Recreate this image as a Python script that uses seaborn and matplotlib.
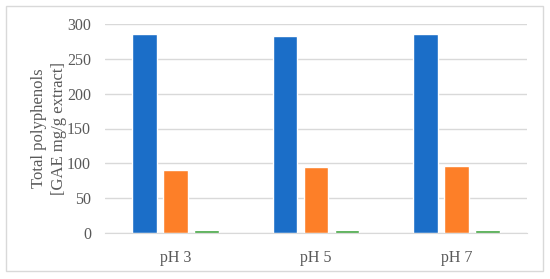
import pandas as pd
import matplotlib.pyplot as plt
import seaborn as sns
from matplotlib.patches import Rectangle

# Data
categories = ["pH 3", "pH 5", "pH 7"]
series_a = [285, 283, 285]
series_b = [91, 95, 96]
series_c = [5, 5, 5]
series_names = ["A", "B", "C"]
colors = ["#1b6ec8", "#fd7f28", "#3ea33c"]

data = pd.DataFrame({
    "pH": categories * 3,
    "value": series_a + series_b + series_c,
    "series": [series_names[0]] * 3 + [series_names[1]] * 3 + [series_names[2]] * 3,
})

sns.set_style("white")
plt.rcParams["font.family"] = ["Liberation Serif", "DejaVu Serif"]
text_color = "#595959"

fig = plt.figure(figsize=(5.5, 2.79), dpi=100)
ax = fig.add_axes([105 / 550, 1 - 233.3 / 279, 422 / 550, 209.6 / 279])

sns.barplot(data=data, x="pH", y="value", hue="series", palette=colors,
            width=0.66, gap=0.21, saturation=1, legend=False, ax=ax)

ax.set_ylim(0, 300)
ax.set_xlim(-0.5, 2.5)
ax.set_yticks(range(0, 301, 50))
ax.yaxis.grid(True, color="#d9d9d9", linewidth=1)
ax.set_axisbelow(True)
for side in ["top", "right", "left"]:
    ax.spines[side].set_visible(False)
ax.spines["bottom"].set_color("#d9d9d9")
ax.tick_params(axis="both", length=0, labelsize=11.5, colors=text_color, pad=10)
ax.tick_params(axis="x", pad=12)
ax.set_xlabel("")
ax.set_ylabel("Total polyphenols\n[GAE mg/g extract]", fontsize=12,
              color=text_color, labelpad=0, linespacing=1.35)

# light frame around the chart area
fig.patches.append(Rectangle((6 / 550, 1 - 271 / 279), 537 / 550, 265 / 279,
                             transform=fig.transFigure, fill=False,
                             edgecolor="#d9d9d9", linewidth=1))

fig.savefig("out.png", dpi=100)
